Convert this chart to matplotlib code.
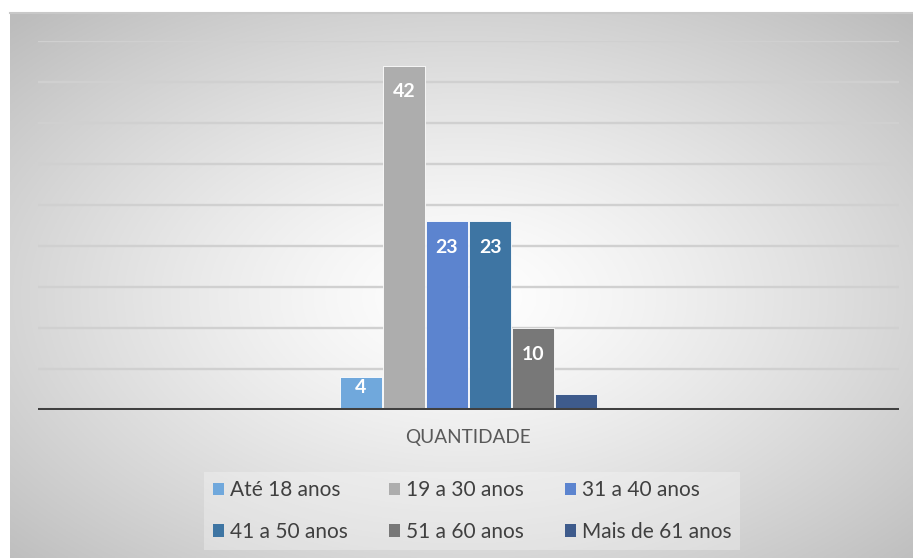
import numpy as np
import matplotlib
matplotlib.use("Agg")
import matplotlib.pyplot as plt

plt.rcParams['font.family'] = ['Lato', 'DejaVu Sans']

category = "QUANTIDADE"
series = ["Até 18 anos", "19 a 30 anos", "31 a 40 anos",
          "41 a 50 anos", "51 a 60 anos", "Mais de 61 anos"]
values = [4, 42, 23, 23, 10, 2]
show_label = [True, True, True, True, True, False]
colors = ["#70A8DC", "#ADADAD", "#5C84CF", "#3E75A3", "#787878", "#3E5B8C"]
yticks = [0, 5, 10, 15, 20, 25, 30, 35, 40, 45]

W, H = 913, 558
fig = plt.figure(figsize=(W / 100, H / 100), dpi=100)
fig.patch.set_facecolor("white")

# background gradient panel
bx0, by0 = 10, 13
bg = fig.add_axes([bx0 / W, 0, 1 - bx0 / W, 1 - by0 / H])
bg.set_axis_off()
ny, nx = 300, 500
yy, xx = np.mgrid[0:ny, 0:nx]
cx, cy = 0.5 * nx, 0.52 * ny
r = np.sqrt(((xx - cx) / (0.5 * nx)) ** 2 + ((yy - cy) / (0.5 * ny)) ** 2) / np.sqrt(2)
r = np.clip(r, 0, 1)
val = 1.0 - 0.26 * r ** 1.3
img = np.dstack([val, val, val])
bg.imshow(img, aspect="auto", extent=[0, 1, 0, 1], origin="upper")
bg.set_xlim(0, 1)
bg.set_ylim(0, 1)
bg.plot([0, 1], [1, 1], color="#C8C8C8", lw=1.5, transform=bg.transAxes, clip_on=False)

# main axes
left, right = 38, 899
base, top = 410, 41
ax = fig.add_axes([left / W, (H - base) / H, (right - left) / W, (base - top) / H])
ax.set_facecolor("none")
ax.set_xlim(-0.5, 0.5)
ax.set_ylim(0, 45)
ax.set_yticks(yticks)
ax.grid(axis="y", color="#D0D0D0", lw=1.7)
ax.set_axisbelow(True)
for s in ax.spines.values():
    s.set_visible(False)
ax.tick_params(left=False, bottom=False, labelleft=False, labelbottom=False)
ax.axhline(0, color="#404040", lw=2.9, zorder=5)

w = 0.0488
pitch = 0.0500
n = len(values)
handles = []
for i, (lab, v, c) in enumerate(zip(series, values, colors)):
    x = (i - (n - 1) / 2) * pitch
    b = ax.bar(x, v, width=w, color=c, edgecolor="white", lw=0.6, label=lab, zorder=3)
    handles.append(b)
    if show_label[i]:
        off = -26 if v >= 10 else -10
        ax.annotate(str(v), (x, v), xytext=(0, off), textcoords="offset pixels",
                    ha="center", va="center", color="white", fontsize=14,
                    fontweight="bold", zorder=6)

fig.text(468 / W, 1 - 438 / H, category, ha="center", va="center",
         fontsize=13.7, color="#595959")

# legend (row-major order like reference)
order = [0, 3, 1, 4, 2, 5]
leg = fig.legend([handles[i] for i in order], [series[i] for i in order],
                 ncol=3, loc="center", bbox_to_anchor=(472 / W, 1 - 511 / H),
                 frameon=True, fontsize=15, handlelength=0.53, handleheight=0.53,
                 handletextpad=0.29, columnspacing=1.97, labelspacing=1.04,
                 borderpad=0.4, fancybox=False, labelcolor="#404040")
leg.get_frame().set_facecolor("#F8F8F8")
leg.get_frame().set_alpha(0.35)
leg.get_frame().set_edgecolor("none")
for h in leg.legend_handles:
    h.set_edgecolor("none")

fig.savefig("out.png", dpi=100)
